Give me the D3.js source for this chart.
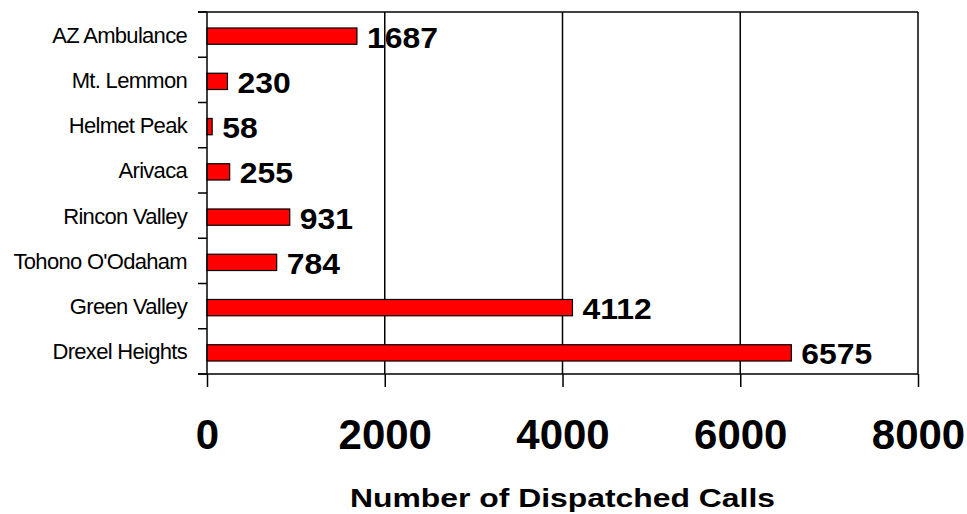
<!DOCTYPE html>
<html><head><meta charset="utf-8">
<script src="https://cdn.jsdelivr.net/npm/d3@7"></script>
<style>html,body{margin:0;padding:0;background:#fff;}svg{display:block;}</style>
</head><body>
<svg id="c" width="967" height="514"></svg>
<script>
const categories = ["AZ Ambulance","Mt. Lemmon","Helmet Peak","Arivaca","Rincon Valley","Tohono O'Odaham","Green Valley","Drexel Heights"];
const values = [1687,230,58,255,931,784,4112,6575];
const xTicks = [0,2000,4000,6000,8000];
const xTitle = "Number of Dispatched Calls";

const svg = d3.select("#c");
const L = 207, R = 918, T = 12, B = 374;
const x = d3.scaleLinear().domain([0,8000]).range([L,R]);
const y = d3.scaleBand().domain(categories).range([T,B]).padding(0);
const bw = y.bandwidth();
const barH = bw*0.36;

// gridlines and right border
svg.append("g").selectAll("line").data(xTicks.slice(1)).join("line")
  .attr("x1",d=>x(d)).attr("x2",d=>x(d)).attr("y1",T).attr("y2",B)
  .attr("stroke","#000").attr("stroke-width",1.5);
// top border
svg.append("line").attr("x1",L-9).attr("x2",R).attr("y1",T).attr("y2",T).attr("stroke","#000").attr("stroke-width",1.5);

// bars
svg.append("g").selectAll("rect").data(categories).join("rect")
  .attr("x",x(0)).attr("y",(d)=>y(d)+bw/2-barH/2+1.5)
  .attr("width",(d,i)=>x(values[i])-x(0)).attr("height",barH)
  .attr("fill","#ff0000").attr("stroke","#000").attr("stroke-width",1.2);

// value labels
const vl = svg.append("g").selectAll("text").data(categories).join("text")
  .attr("x",(d,i)=>x(values[i])+10).attr("y",d=>y(d)+bw/2+13)
  .attr("font-family","Liberation Sans, Arial, sans-serif").attr("font-weight","bold")
  .attr("font-size",29).attr("fill","#000")
  .text((d,i)=>values[i]);
vl.each(function(){ const w=this.getComputedTextLength(); d3.select(this).attr("textLength",w*1.1).attr("lengthAdjust","spacingAndGlyphs"); });

// x axis
const xAxis = d3.axisBottom(x).tickValues(xTicks).tickSize(13).tickPadding(32).tickFormat(d3.format("d"));
const gx = svg.append("g").attr("transform",`translate(0,${B})`).call(xAxis);
gx.select(".domain").remove();
gx.selectAll(".tick line").attr("stroke","#000").attr("stroke-width",1.5);
gx.selectAll(".tick text").attr("font-family","Liberation Sans, Arial, sans-serif")
  .attr("font-weight","bold").attr("font-size",42).attr("fill","#000");
svg.append("line").attr("x1",L-9).attr("x2",R).attr("y1",B).attr("y2",B).attr("stroke","#000").attr("stroke-width",1.5);

// y axis
svg.append("line").attr("x1",L).attr("x2",L).attr("y1",T).attr("y2",B).attr("stroke","#000").attr("stroke-width",1.5);
const bounds = categories.map(d=>y(d)).concat([B]);
svg.append("g").selectAll("line").data(bounds).join("line")
  .attr("x1",L-9).attr("x2",L).attr("y1",d=>d).attr("y2",d=>d)
  .attr("stroke","#000").attr("stroke-width",1.5);
svg.append("g").selectAll("text").data(categories).join("text")
  .attr("x",L-20).attr("y",d=>y(d)+bw/2+8)
  .attr("text-anchor","end")
  .attr("font-family","Liberation Sans, Arial, sans-serif").attr("font-size",22).attr("fill","#000")
  .attr("letter-spacing",-0.7)
  .text(d=>d);

// title
svg.append("text").attr("x",(L+R)/2).attr("y",507).attr("text-anchor","middle")
  .attr("font-family","Liberation Sans, Arial, sans-serif").attr("font-weight","bold")
  .attr("font-size",26).attr("fill","#000")
  .attr("textLength",425).attr("lengthAdjust","spacingAndGlyphs")
  .text(xTitle);
</script>
</body></html>
